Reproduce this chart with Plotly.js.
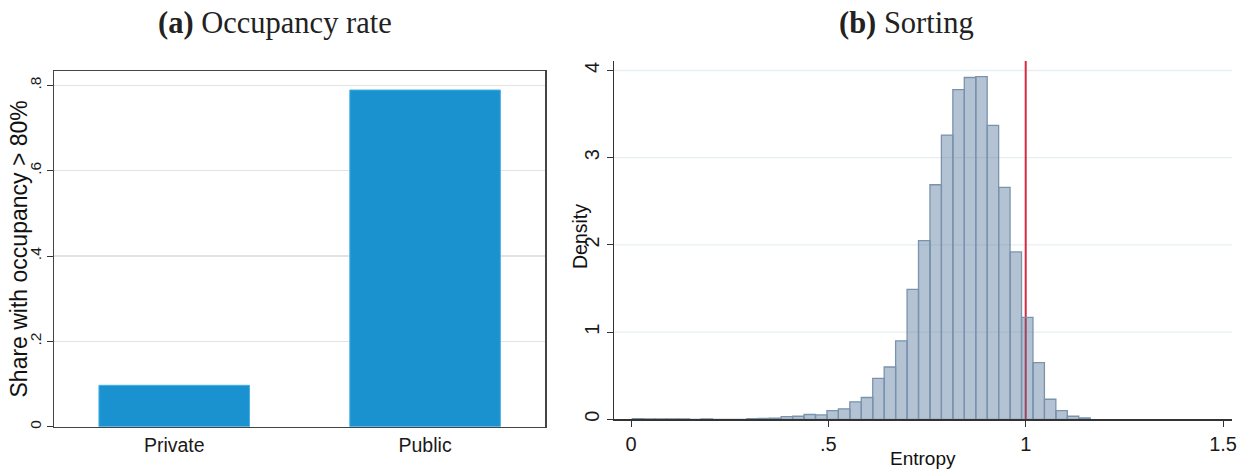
<!DOCTYPE html>
<html><head><meta charset="utf-8">
<script src="https://cdn.plot.ly/plotly-3.0.1.min.js"></script>
<style>html,body{margin:0;padding:0;background:#fff;} #chart{width:1249px;height:473px;}</style>
</head><body><div id="chart"></div>
<script>
// ---- Panel (a): occupancy rate ----
const sectors = ["Private", "Public"];
const shareHighOccupancy = [0.097, 0.789];
const shareTickVals = [0, 0.2, 0.4, 0.6, 0.8];
const shareTickText = ["0", ".2", ".4", ".6", ".8"];

// ---- Panel (b): sorting (entropy histogram, density) ----
const entropyBinStart = 0.0034;
const entropyBinWidth = 0.029;
const entropyDensity = [
  0.008, 0.006, 0.006, 0.005, 0.005, 0, 0.005, 0, 0, 0,
  0.008, 0.010, 0.012, 0.030, 0.035, 0.055, 0.050,
  0.10, 0.12, 0.20, 0.25, 0.47, 0.60, 0.90, 1.49, 2.05, 2.69,
  3.26, 3.78, 3.92, 3.93, 3.37, 2.66, 1.92, 1.17, 0.65, 0.23,
  0.10, 0.035, 0.015
];
const entropyTickVals = [0, 0.5, 1, 1.5];
const entropyTickText = ["0", ".5", "1", "1.5"];
const densityTickVals = [0, 1, 2, 3, 4];
const densityTickText = ["0", "1", "2", "3", "4"];
const referenceEntropy = 1;

const binCenters = entropyDensity.map((_, i) => entropyBinStart + entropyBinWidth * (i + 0.5));

const sans = "Liberation Sans, Arial, Helvetica, sans-serif";
const serif = "Liberation Serif, Times New Roman, serif";
const W = 1249, H = 473;
const px = v => v / W;
const py = v => (H - v) / H;

const traces = [
  {
    type: "bar", x: sectors, y: shareHighOccupancy, width: 0.6,
    xaxis: "x", yaxis: "y",
    marker: { color: "#1a92d0", line: { color: "#45b0e4", width: 1 } },
    hoverinfo: "skip"
  },
  {
    type: "bar", x: binCenters, y: entropyDensity, width: entropyBinWidth,
    xaxis: "x2", yaxis: "y2",
    marker: { color: "rgba(68,105,145,0.40)", line: { color: "rgb(122,147,173)", width: 1.3 } },
    hoverinfo: "skip"
  }
];

// Density gridlines drawn as shapes so the reference line can sit above them but under the bars
const densityGrid = densityTickVals.filter(v => v > 0).map(v => ({
  type: "line", layer: "below",
  xref: "x2 domain", x0: 0, x1: 1,
  yref: "y2", y0: v, y1: v,
  line: { color: "#e6eff2", width: 1.3 }
}));

const layout = {
  width: W, height: H,
  margin: { l: 0, r: 0, t: 0, b: 0 },
  paper_bgcolor: "#fff", plot_bgcolor: "#fff",
  showlegend: false, bargap: 0,
  font: { family: sans, color: "#1a1a1a" },
  xaxis: {
    domain: [px(54.3), px(545)], anchor: "y", type: "category",
    range: [-0.478, 1.478],
    showline: true, mirror: true, linecolor: "#444", linewidth: 1.5,
    ticks: "", showgrid: false, zeroline: false,
    tickfont: { size: 19.5, family: sans, color: "#1a1a1a" }
  },
  yaxis: {
    domain: [py(426.7), py(71)], anchor: "x",
    range: [0, 0.8336],
    tickvals: shareTickVals, ticktext: shareTickText, tickangle: -90,
    ticks: "outside", ticklen: 6, tickcolor: "#333", tickwidth: 1,
    showline: true, mirror: true, linecolor: "#444", linewidth: 1.5,
    showgrid: true, gridcolor: "#e3e3e3", gridwidth: 1.3, zeroline: false,
    tickfont: { size: 15.5, family: sans, color: "#1a1a1a" }
  },
  xaxis2: {
    domain: [px(614.3), px(1232.3)], anchor: "y2",
    range: [-0.0423, 1.5234],
    tickvals: entropyTickVals, ticktext: entropyTickText,
    ticks: "outside", ticklen: 6, tickcolor: "#333",
    showline: true, linecolor: "#333", linewidth: 1.5,
    showgrid: false, zeroline: false,
    tickfont: { size: 20, family: sans, color: "#1a1a1a" }
  },
  yaxis2: {
    domain: [py(419.3), py(61)], anchor: "x2",
    range: [0, 4.109],
    tickvals: densityTickVals, ticktext: densityTickText, tickangle: -90,
    ticks: "outside", ticklen: 6, tickcolor: "#333",
    showline: true, linecolor: "#333", linewidth: 1.5,
    showgrid: false, zeroline: false,
    tickfont: { size: 20, family: sans, color: "#1a1a1a" }
  },
  shapes: densityGrid.concat([
    {
      type: "line", layer: "below",
      xref: "x2", x0: referenceEntropy, x1: referenceEntropy,
      yref: "y2 domain", y0: 0, y1: 1,
      line: { color: "#d9283f", width: 2 }
    }
  ]),
  annotations: [
    { text: "<b>(a)</b> Occupancy rate", xref: "paper", yref: "paper",
      x: px(274.7), y: py(23), xanchor: "center", yanchor: "middle", showarrow: false,
      font: { family: serif, size: 30.5, color: "#222" } },
    { text: "<b>(b)</b> Sorting", xref: "paper", yref: "paper",
      x: px(906), y: py(23), xanchor: "center", yanchor: "middle", showarrow: false,
      font: { family: serif, size: 30.5, color: "#222" } },
    { text: "Share with occupancy > 80%", xref: "paper", yref: "paper",
      x: px(18), y: py(249.5), xanchor: "center", yanchor: "middle", showarrow: false,
      textangle: -90, font: { family: sans, size: 23, color: "#111" } },
    { text: "Density", xref: "paper", yref: "paper",
      x: px(580), y: py(237), xanchor: "center", yanchor: "middle", showarrow: false,
      textangle: -90, font: { family: sans, size: 19.5, color: "#111" } },
    { text: "Entropy", xref: "paper", yref: "paper",
      x: px(923.3), y: py(458), xanchor: "center", yanchor: "middle", showarrow: false,
      font: { family: sans, size: 19, color: "#111" } }
  ]
};

Plotly.newPlot("chart", traces, layout, { staticPlot: true, displayModeBar: false });
</script>
</body></html>
